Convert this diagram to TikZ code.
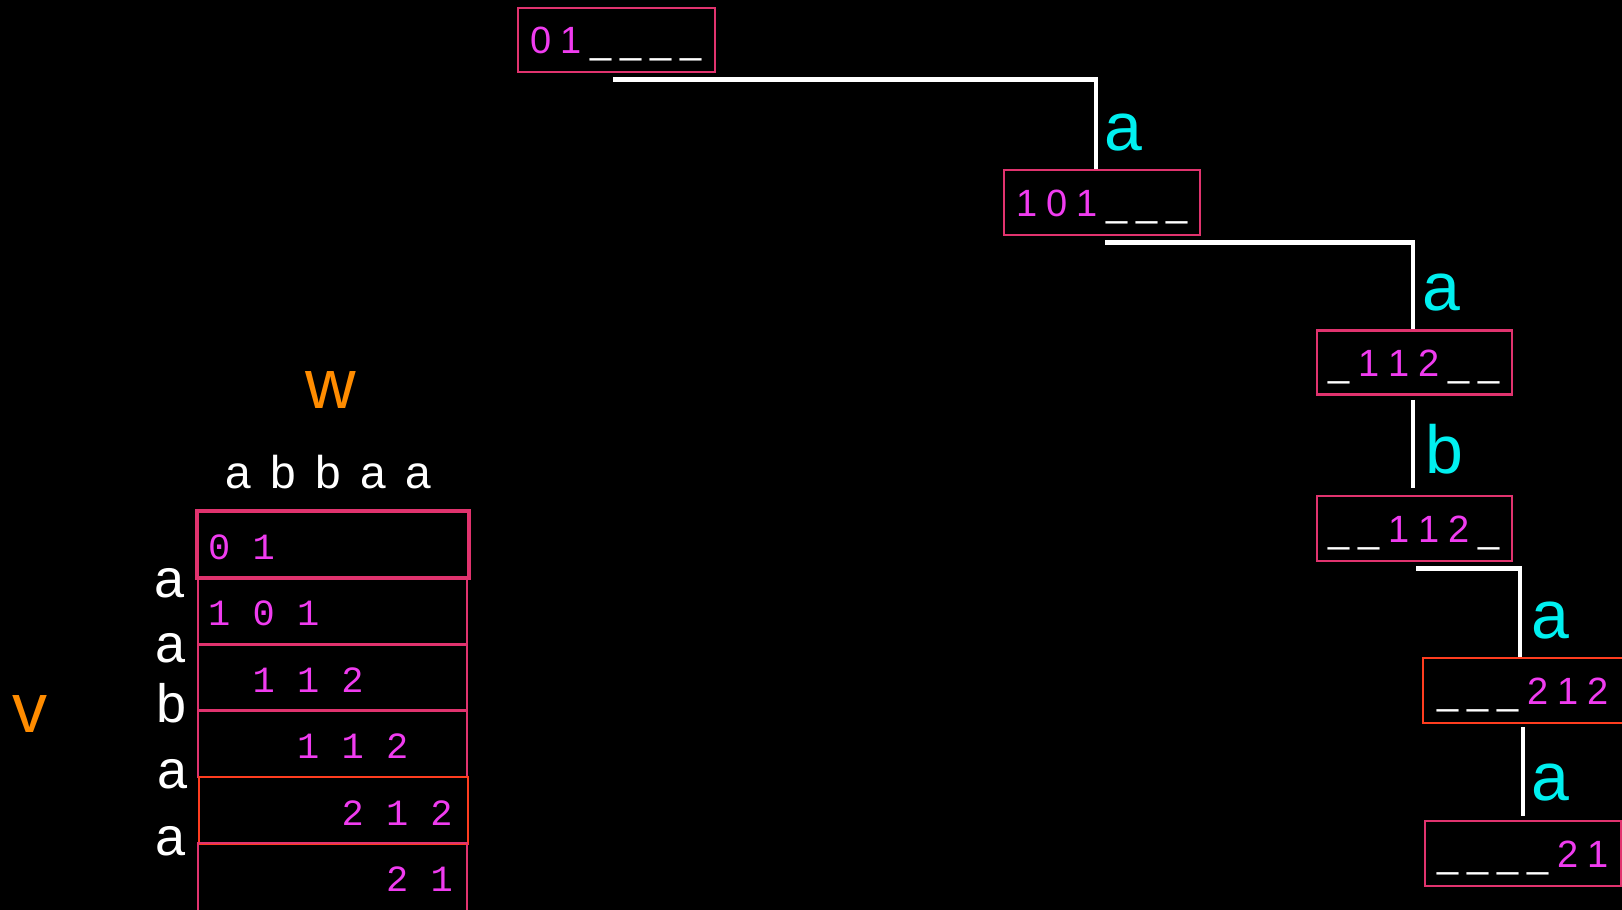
\documentclass[tikz,border=0pt]{standalone}
\usepackage{fontspec}
\setmainfont{Liberation Sans}
\newfontfamily\monofam{Liberation Mono}
\definecolor{pinkb}{HTML}{E0336E}
\definecolor{redb}{HTML}{FF3D1F}
\definecolor{magc}{HTML}{F03CF0}
\definecolor{cyanl}{HTML}{00F0F0}
\definecolor{orangel}{HTML}{FF8C00}
\newcommand\tsl[1]{\makebox[30pt]{#1}}
\newcommand\tbl{\makebox[30pt]{\color{white}\_}}
\newcommand\hsl[1]{\makebox[45pt]{#1}}
\begin{document}
\begin{tikzpicture}[x=1pt,y=-1pt,
  treebox/.style={draw=pinkb, line width=2.5pt, minimum width=196pt, minimum height=64pt,
    inner sep=0pt, text height=27pt, text depth=0pt, text=magc,
    font=\fontsize{38}{40}\selectfont},
  conn/.style={draw=white, line width=4.5pt},
  edgelab/.style={text=cyanl, anchor=base, inner sep=0pt, font=\fontsize{68}{72}\selectfont},
  rowbox/.style={draw=pinkb, line width=2.5pt, minimum width=269pt, minimum height=66.5pt, inner sep=0pt},
  digrow/.style={anchor=base west, inner sep=0pt, text=magc, font=\monofam\fontsize{37}{40}\selectfont},
  sidelab/.style={text=white, anchor=base, inner sep=0pt, font=\fontsize{54}{60}\selectfont},
  biglab/.style={text=orangel, anchor=base, inner sep=0pt, font=\fontsize{70}{80}\selectfont}]
\fill[black] (0,0) rectangle (1622,910);
\useasboundingbox (0,0) rectangle (1622,910);

% tree
\node[treebox, minimum width=197pt] (n1) at (616.5,40) {\tsl{0}\tsl{1}\tbl\tbl\tbl\tbl};
\node[treebox, minimum height=65pt] (n2) at (1102,202.5) {\tsl{1}\tsl{0}\tsl{1}\tbl\tbl\tbl};
\node[treebox, minimum width=195pt] (n3) at (1414.5,362.5) {\tbl\tsl{1}\tsl{1}\tsl{2}\tbl\tbl};
\node[treebox, minimum width=195pt, minimum height=65pt] (n4) at (1414.5,528.5) {\tbl\tbl\tsl{1}\tsl{1}\tsl{2}\tbl};
\node[treebox, draw=redb, minimum width=200pt, minimum height=65pt] (n5) at (1523,690.5) {\tbl\tbl\tbl\tsl{2}\tsl{1}\tsl{2}};
\node[treebox, minimum height=65pt] (n6) at (1523,853.5) {\tbl\tbl\tbl\tbl\tsl{2}\tsl{1}};

\draw[conn] ([xshift=-3.5pt,yshift=-6pt]n1.south) -| ([xshift=-6pt]n2.north);
\draw[conn] ([xshift=3pt,yshift=-6pt]n2.south) -| ([xshift=-1.5pt]n3.north);
\draw[conn] ([xshift=-1.5pt,yshift=-4pt]n3.south) -- ([xshift=-1.5pt,yshift=7pt]n4.north);
\draw[conn] ([xshift=1.5pt,yshift=-6pt]n4.south) -| ([xshift=-3pt]n5.north);
\draw[conn] ([yshift=-3pt]n5.south) -- ([yshift=4pt]n6.north);

\node[edgelab] (l1) at (1123,150) {a};
\node[edgelab] (l2) at (1441,310) {a};
\node[edgelab] (l3) at (1444,473) {b};
\node[edgelab] (l4) at (1550,638) {a};
\node[edgelab] (l5) at (1550,800) {a};

% table
\node[rowbox, line width=3.5pt, minimum width=272pt, minimum height=67pt] (r1) at (333,544.5) {};
\node[rowbox] (r2) at (332.5,611) {};
\node[rowbox] (r3) at (332.5,677) {};
\node[rowbox] (r4) at (332.5,743.5) {};
\node[rowbox, draw=redb] (r5) at (333.5,810) {};
\node[rowbox, minimum height=68pt] (r6) at (332.5,877) {};

\node[digrow] (d1) at (208,559) {0 1};
\node[digrow] (d2) at (208,625) {1 0 1};
\node[digrow] (d3) at (252.4,692) {1 1 2};
\node[digrow] (d4) at (297,758) {1 1 2};
\node[digrow] (d5) at (341.4,825) {2 1 2};
\node[digrow] (d6) at (386,891) {2 1};

\node[text=white, anchor=base, inner sep=0pt, font=\fontsize{46}{50}\selectfont] (hdr) at (328,488)
  {\hsl{a}\hsl{b}\hsl{b}\hsl{a}\hsl{a}};

\node[sidelab] (s1) at (170,597) {a};
\node[sidelab] (s2) at (171,662) {a};
\node[sidelab] (s3) at (171.5,722) {b};
\node[sidelab] (s4) at (173,788) {a};
\node[sidelab] (s5) at (171,855) {a};

\node[biglab] (w) at (331,408) {w};
\node[biglab] (v) at (30,732) {v};
\end{tikzpicture}
\end{document}
